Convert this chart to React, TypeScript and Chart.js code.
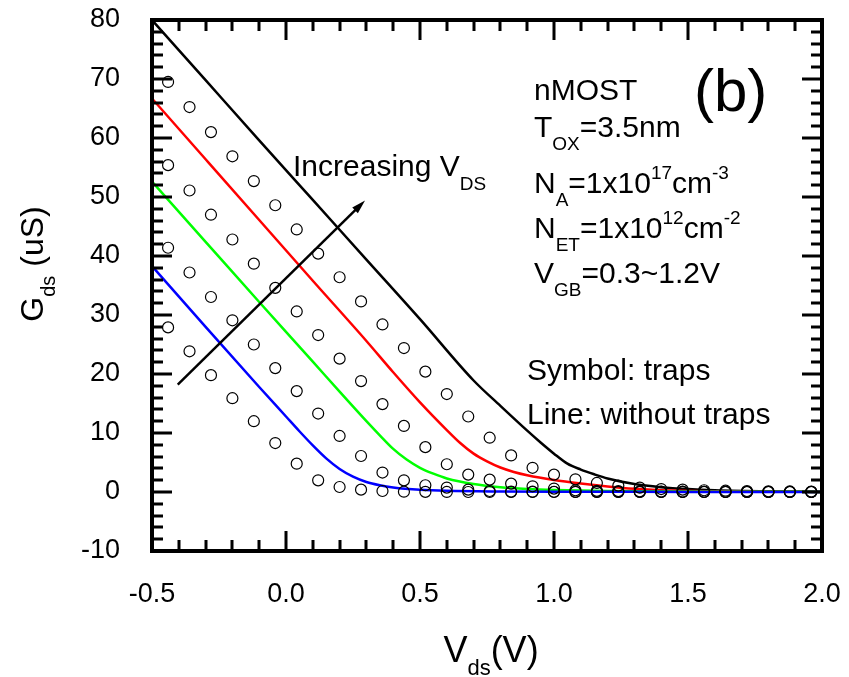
import React, { useEffect, useRef } from 'react';
import { Chart, registerables } from 'chart.js';

Chart.register(...registerables);

const FONT = '"Liberation Sans", Arial, Helvetica, sans-serif';

// Axis ranges and labelled tick values
const xRange = [-0.5, 2.0];
const yRange = [-10, 80];
const xTickValues = [-0.5, 0.0, 0.5, 1.0, 1.5, 2.0];
const yTickValues = [-10, 0, 10, 20, 30, 40, 50, 60, 70, 80];

// Drain voltages of the simulated points with traps (V)
const vdsTraps = [
  -0.44, -0.36, -0.28, -0.2, -0.12, -0.04, 0.04, 0.12, 0.2, 0.28, 0.36, 0.44,
  0.52, 0.6, 0.68, 0.76, 0.84, 0.92, 1.0, 1.08, 1.16, 1.24, 1.32, 1.4, 1.48,
  1.56, 1.64, 1.72, 1.8, 1.88, 1.96,
];

// Gds with traps (uS), one array per gate bias curve
const gdsTraps1 = [
  69.5, 65.25, 61.0, 56.9, 52.7, 48.6, 44.5, 40.4, 36.4, 32.3, 28.4, 24.4,
  20.4, 16.6, 12.8, 9.2, 6.2, 4.1, 2.95, 2.15, 1.53, 1.08, 0.75, 0.5, 0.4,
  0.3, 0.22, 0.16, 0.12, 0.09, 0.06,
];
const gdsTraps2 = [
  55.4, 51.1, 47.0, 42.8, 38.7, 34.6, 30.6, 26.6, 22.6, 18.8, 14.9, 11.2,
  7.6, 4.7, 2.95, 2.1, 1.42, 0.97, 0.58, 0.29, 0.2, 0.15, 0.1, 0.08, 0.05,
  0.04, 0.03, 0.02, 0.02, 0.01, 0.01,
];
const gdsTraps3 = [
  41.4, 37.2, 33.05, 29.1, 25.0, 21.0, 17.1, 13.3, 9.5, 6.1, 3.3, 1.98,
  1.14, 0.75, 0.4, 0.17, 0.07, 0.05, 0.04, 0.03, 0.02, 0.02, 0.01, 0.01,
  0.01, 0.01, 0.0, 0.0, 0.0, 0.0, 0.0,
];
const gdsTraps4 = [
  27.9, 23.85, 19.8, 15.9, 12.0, 8.3, 4.8, 1.98, 0.85, 0.4, 0.17, 0.05,
  0.02, 0.01, 0.0, 0.0, 0.0, 0.0, 0.0, 0.0, 0.0, 0.0, 0.0, 0.0, 0.0, 0.0,
  0.0, 0.0, 0.0, 0.0, 0.0,
];

// Gds without traps (uS)
const vdsBlack = [-0.5, -0.3, -0.1, 0.1, 0.3, 0.5, 0.7, 0.8, 0.9, 0.95, 1.0, 1.05, 1.1, 1.15, 1.2, 1.3, 1.4, 1.5, 1.6, 1.8, 2.0];
const gdsBlack = [80.0, 69.8, 59.6, 49.5, 39.4, 29.3, 18.9, 14.6, 10.4, 8.4, 6.5, 4.8, 3.8, 3.0, 2.3, 1.35, 0.82, 0.5, 0.3, 0.12, 0.05];

const vdsRed = [-0.5, -0.3, -0.1, 0.1, 0.3, 0.4, 0.5, 0.6, 0.65, 0.7, 0.75, 0.8, 0.85, 0.9, 1.0, 1.1, 1.2, 1.3, 1.4, 1.6, 1.8, 2.0];
const gdsRed = [66.7, 56.4, 46.1, 35.8, 25.6, 20.3, 15.2, 10.5, 8.3, 6.5, 5.2, 4.15, 3.4, 2.85, 2.05, 1.45, 0.95, 0.55, 0.3, 0.12, 0.05, 0.02];

const vdsGreen = [-0.5, -0.3, -0.1, 0.1, 0.2, 0.3, 0.35, 0.4, 0.45, 0.5, 0.55, 0.6, 0.7, 0.8, 0.9, 1.0, 1.2, 1.4, 1.7, 2.0];
const gdsGreen = [52.6, 42.4, 32.2, 22.1, 17.0, 12.0, 9.6, 7.3, 5.5, 4.1, 3.1, 2.3, 1.35, 0.8, 0.5, 0.33, 0.16, 0.08, 0.04, 0.02];

const vdsBlue = [-0.5, -0.3, -0.1, 0.0, 0.05, 0.1, 0.15, 0.2, 0.25, 0.3, 0.35, 0.4, 0.5, 0.6, 0.8, 1.0, 1.5, 2.0];
const gdsBlue = [38.3, 28.0, 17.8, 12.8, 10.3, 7.9, 5.7, 3.9, 2.6, 1.7, 1.15, 0.78, 0.38, 0.2, 0.08, 0.04, 0.02, 0.01];

// "Increasing VDS" arrow, in data coordinates (V, uS)
const arrowFrom = [-0.404, 18.2];
const arrowTo = [0.295, 49.4];

const pts = (xs: number[], ys: number[]) => xs.map((x, i) => ({ x, y: ys[i] }));

type Run = { t: string; s?: 'sub' | 'sup' };

function runsWidth(ctx: CanvasRenderingContext2D, runs: Run[], size: number, small: number) {
  let w = 0;
  for (const r of runs) {
    ctx.font = `${r.s ? small : size}px ${FONT}`;
    w += ctx.measureText(r.t).width;
  }
  return w;
}

function drawRuns(
  ctx: CanvasRenderingContext2D,
  runs: Run[],
  x: number,
  y: number,
  size: number,
  small: number,
  subDy: number,
  supDy: number
) {
  let cx = x;
  for (const r of runs) {
    const fs = r.s ? small : size;
    const dy = r.s === 'sub' ? subDy : r.s === 'sup' ? -supDy : 0;
    ctx.font = `${fs}px ${FONT}`;
    ctx.fillText(r.t, cx, y + dy);
    cx += ctx.measureText(r.t).width;
  }
}

// keep the plot frame fixed: no extra room for half-labels at the ends
const zeroPadding = (s: any) => {
  s.paddingTop = 0;
  s.paddingBottom = 0;
  s.paddingLeft = 0;
  s.paddingRight = 0;
};

const framePlugin = {
  id: 'frameAndNotes',
  afterDraw(chart: any) {
    const { ctx, chartArea: a, scales } = chart;
    const xs = scales.x;
    const ys = scales.y;
    ctx.save();
    ctx.strokeStyle = '#000';
    ctx.fillStyle = '#000';
    ctx.lineCap = 'butt';

    // inward ticks on all four sides
    ctx.lineWidth = 3;
    ctx.beginPath();
    for (let i = 0; i <= 25; i++) {
      const v = xRange[0] + i * 0.1;
      const px = Math.round(xs.getPixelForValue(v));
      const len = i % 5 === 0 ? 20 : 11;
      ctx.moveTo(px, a.bottom);
      ctx.lineTo(px, a.bottom - len);
      ctx.moveTo(px, a.top);
      ctx.lineTo(px, a.top + len);
    }
    for (let i = 0; i <= 45; i++) {
      const v = yRange[0] + i * 2;
      const py = Math.round(ys.getPixelForValue(v));
      const len = i % 5 === 0 ? 20 : 11;
      ctx.moveTo(a.left, py);
      ctx.lineTo(a.left + len, py);
      ctx.moveTo(a.right, py);
      ctx.lineTo(a.right - len, py);
    }
    ctx.stroke();

    // frame
    ctx.lineWidth = 4;
    ctx.strokeRect(a.left, a.top, a.right - a.left, a.bottom - a.top);

    // arrow
    const x0 = xs.getPixelForValue(arrowFrom[0]);
    const y0 = ys.getPixelForValue(arrowFrom[1]);
    const x1 = xs.getPixelForValue(arrowTo[0]);
    const y1 = ys.getPixelForValue(arrowTo[1]);
    const ang = Math.atan2(y1 - y0, x1 - x0);
    const hl = 14;
    const hw = 4;
    ctx.lineWidth = 2.5;
    ctx.beginPath();
    ctx.moveTo(x0, y0);
    ctx.lineTo(x1 - Math.cos(ang) * hl * 0.6, y1 - Math.sin(ang) * hl * 0.6);
    ctx.stroke();
    ctx.beginPath();
    ctx.moveTo(x1, y1);
    ctx.lineTo(
      x1 - Math.cos(ang) * hl + Math.sin(ang) * hw,
      y1 - Math.sin(ang) * hl - Math.cos(ang) * hw
    );
    ctx.lineTo(
      x1 - Math.cos(ang) * hl - Math.sin(ang) * hw,
      y1 - Math.sin(ang) * hl + Math.cos(ang) * hw
    );
    ctx.closePath();
    ctx.fill();

    // annotations
    ctx.textBaseline = 'alphabetic';
    ctx.textAlign = 'left';
    drawRuns(ctx, [{ t: 'Increasing V' }, { t: 'DS', s: 'sub' }], 293, 176, 30, 19, 14, 14);
    drawRuns(ctx, [{ t: 'nMOST' }], 534, 100, 30, 19, 13, 14);
    drawRuns(ctx, [{ t: '(b)' }], 694, 111, 60, 30, 0, 0);
    drawRuns(ctx, [{ t: 'T' }, { t: 'OX', s: 'sub' }, { t: '=3.5nm' }], 534, 137, 30, 19, 13, 14);
    drawRuns(
      ctx,
      [{ t: 'N' }, { t: 'A', s: 'sub' }, { t: '=1x10' }, { t: '17', s: 'sup' }, { t: 'cm' }, { t: '-3', s: 'sup' }],
      534, 193, 30, 19, 13, 14
    );
    drawRuns(
      ctx,
      [{ t: 'N' }, { t: 'ET', s: 'sub' }, { t: '=1x10' }, { t: '12', s: 'sup' }, { t: 'cm' }, { t: '-2', s: 'sup' }],
      534, 238, 30, 19, 13, 14
    );
    drawRuns(ctx, [{ t: 'V' }, { t: 'GB', s: 'sub' }, { t: '=0.3~1.2V' }], 534, 283, 30, 19, 13, 14);
    drawRuns(ctx, [{ t: 'Symbol: traps' }], 527, 380, 30, 19, 13, 14);
    drawRuns(ctx, [{ t: 'Line: without traps' }], 527, 424, 30, 19, 13, 14);

    // axis titles
    const xTitle: Run[] = [{ t: 'V' }, { t: 'ds', s: 'sub' }, { t: '(V)' }];
    const xw = runsWidth(ctx, xTitle, 36, 22);
    drawRuns(ctx, xTitle, (a.left + a.right) / 2 + 4 - xw / 2, 662, 36, 22, 13, 14);

    const yTitle: Run[] = [{ t: 'G' }, { t: 'ds', s: 'sub' }, { t: ' (uS)' }];
    const yw = runsWidth(ctx, yTitle, 32, 20);
    ctx.translate(43, 264);
    ctx.rotate(-Math.PI / 2);
    drawRuns(ctx, yTitle, -yw / 2, 0, 32, 20, 12, 14);

    ctx.restore();
  },
};

export default function App() {
  const ref = useRef<HTMLCanvasElement | null>(null);

  useEffect(() => {
    if (!ref.current) return;
    Chart.defaults.font.family = FONT;

    const lineDs = (label: string, xs: number[], ys: number[], color: string, order: number) => ({
      type: 'line' as const,
      label,
      data: pts(xs, ys),
      borderColor: color,
      backgroundColor: color,
      borderWidth: 2.5,
      pointRadius: 0,
      showLine: true,
      fill: false,
      cubicInterpolationMode: 'monotone' as const,
      order,
    });
    const symDs = (label: string, ys: number[]) => ({
      type: 'scatter' as const,
      label,
      data: pts(vdsTraps, ys),
      borderColor: '#000',
      backgroundColor: 'rgba(0,0,0,0)',
      borderWidth: 1.2,
      pointRadius: 5.5,
      pointStyle: 'circle',
      showLine: false,
      order: 0,
    });

    const chart = new Chart(ref.current, {
      type: 'scatter',
      data: {
        datasets: [
          symDs('traps 1', gdsTraps1),
          symDs('traps 2', gdsTraps2),
          symDs('traps 3', gdsTraps3),
          symDs('traps 4', gdsTraps4),
          lineDs('no traps 1', vdsBlack, gdsBlack, '#000000', 5),
          lineDs('no traps 2', vdsRed, gdsRed, '#ff0000', 4),
          lineDs('no traps 3', vdsGreen, gdsGreen, '#00ff00', 3),
          lineDs('no traps 4', vdsBlue, gdsBlue, '#0000ff', 2),
        ] as any,
      },
      options: {
        animation: false,
        responsive: false,
        maintainAspectRatio: false,
        layout: { padding: { left: 0, right: 27, top: 20, bottom: 0 } },
        plugins: {
          legend: { display: false },
          tooltip: { enabled: false },
          title: { display: false },
        },
        scales: {
          x: {
            type: 'linear',
            position: 'bottom',
            min: xRange[0],
            max: xRange[1],
            grid: { display: false },
            border: { display: false },
            ticks: {
              color: '#000',
              font: { size: 27, family: FONT },
              padding: 19,
              maxRotation: 0,
              autoSkip: false,
              callback: (v: any) => Number(v).toFixed(1),
            },
            afterBuildTicks: (s: any) => {
              s.ticks = xTickValues.map((value) => ({ value }));
            },
            afterFit: (s: any) => {
              s.height = 126;
              zeroPadding(s);
            },
          },
          y: {
            type: 'linear',
            position: 'left',
            min: yRange[0],
            max: yRange[1],
            grid: { display: false },
            border: { display: false },
            ticks: {
              color: '#000',
              font: { size: 27, family: FONT },
              padding: 24,
              autoSkip: false,
              callback: (v: any) => String(v),
            },
            afterBuildTicks: (s: any) => {
              s.ticks = yTickValues.map((value) => ({ value }));
            },
            afterFit: (s: any) => {
              s.width = 152;
              zeroPadding(s);
            },
          },
        },
      } as any,
      plugins: [framePlugin],
    });

    return () => chart.destroy();
  }, []);

  return (
    <div style={{ position: 'fixed', left: 0, top: 0, width: 849, height: 677, background: '#fff' }}>
      <canvas ref={ref} width={849} height={677} style={{ display: 'block' }} />
    </div>
  );
}
